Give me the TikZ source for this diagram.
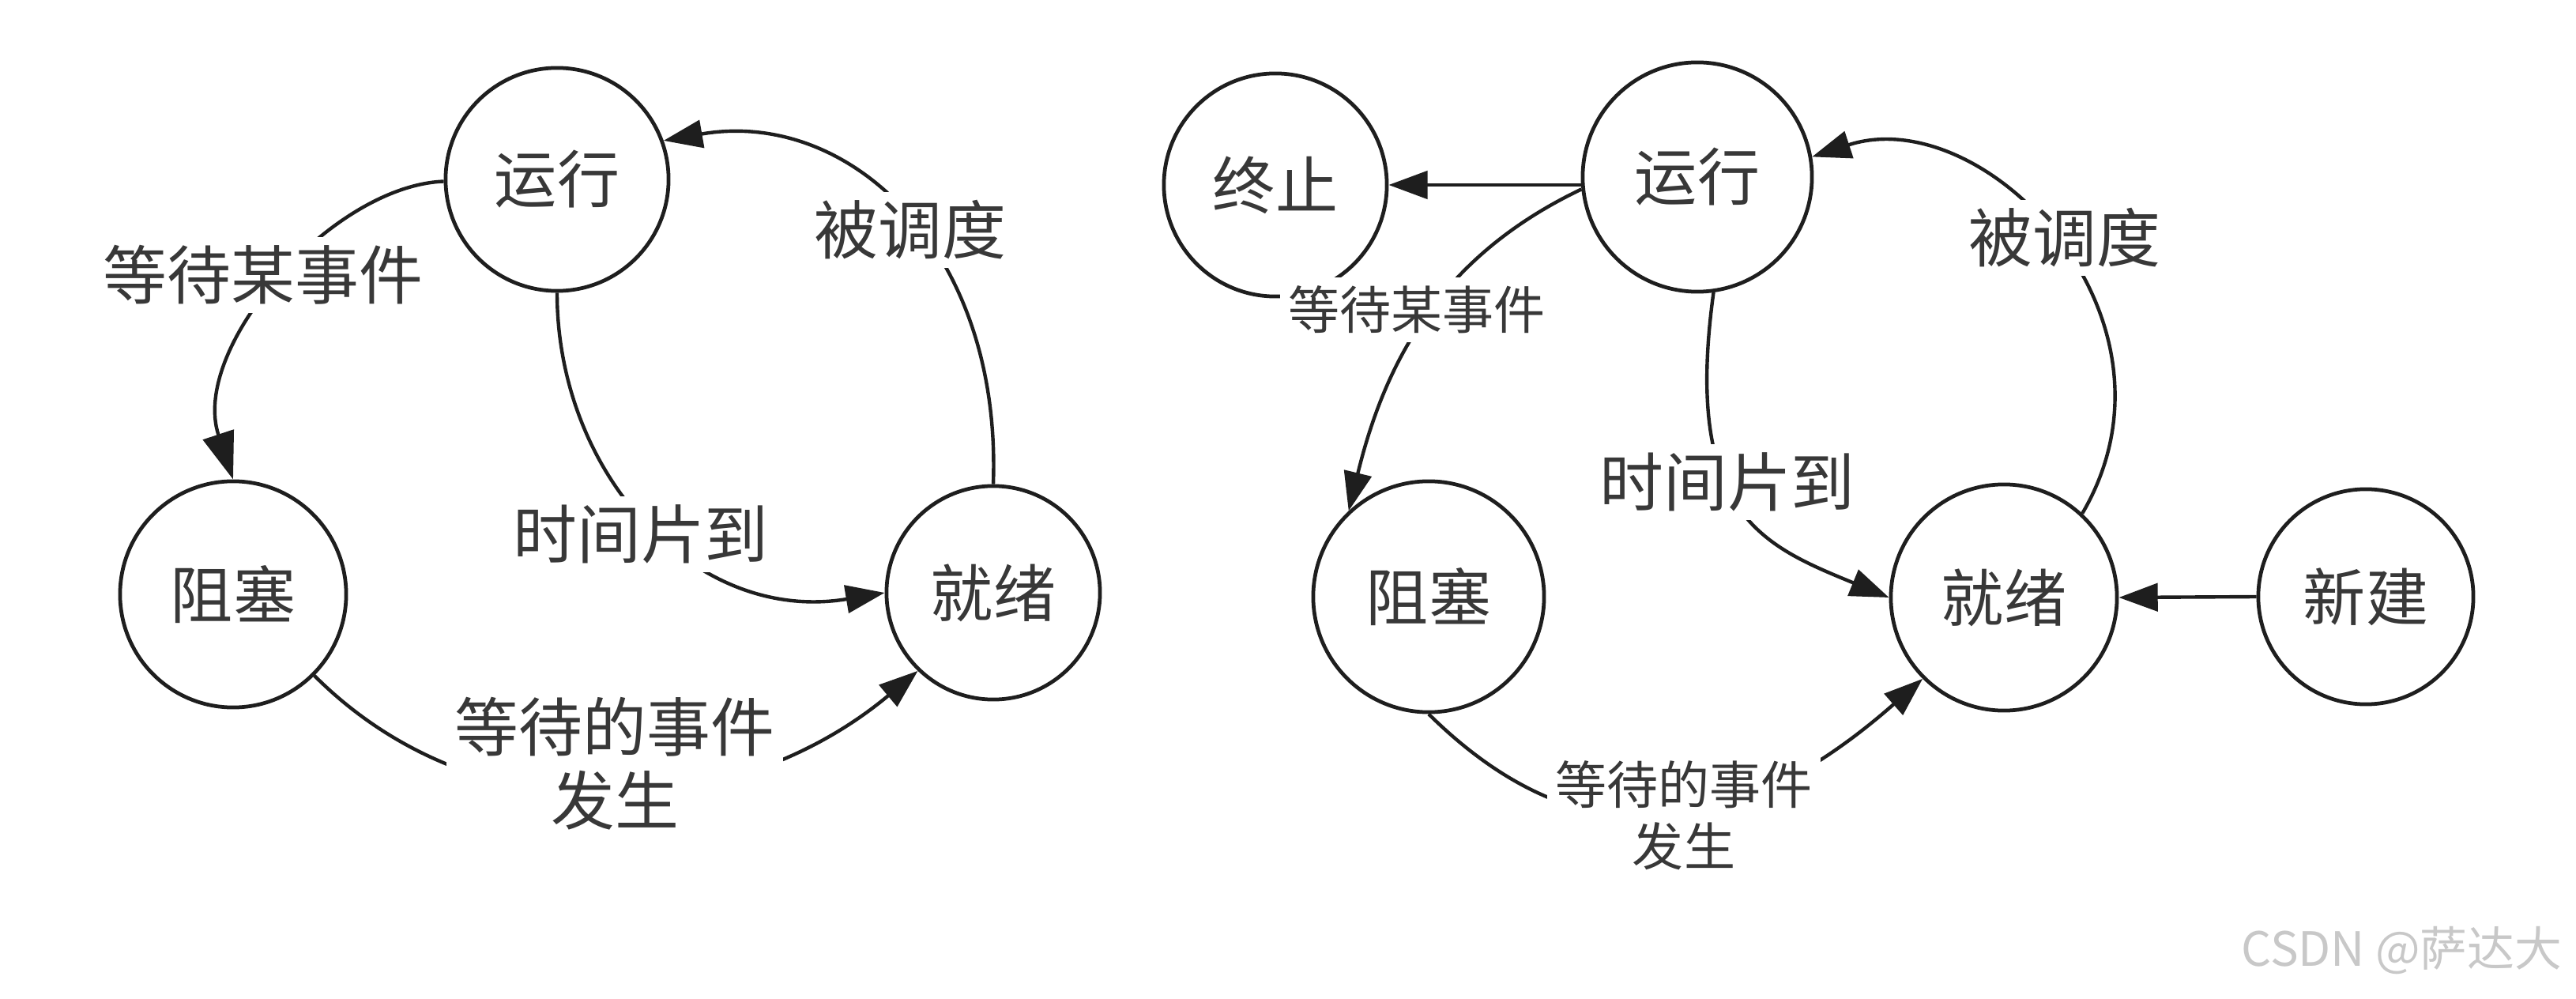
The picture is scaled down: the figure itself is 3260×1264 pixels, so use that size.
\documentclass[tikz,border=0pt]{standalone}
\usepackage{fontspec}
\setmainfont{Noto Sans CJK SC}
\usetikzlibrary{arrows.meta}
\definecolor{ink}{HTML}{1E1E1E}
\definecolor{txt}{HTML}{383838}
\definecolor{wm}{HTML}{C8C8C8}
\begin{document}
\begin{tikzpicture}[x=0.01cm,y=-0.01cm,
  state/.style={circle,draw=ink,line width=1.35pt,inner sep=0pt,text=txt,font=\fontsize{22.5}{26}\selectfont},
  biglab/.style={fill=white,inner sep=3pt,text=txt,font=\fontsize{23}{26.5}\selectfont,align=center},
  smalllab/.style={fill=white,inner sep=3pt,text=txt,font=\fontsize{18.5}{22.2}\selectfont,align=center},
  edge/.style={draw=ink,line width=1.25pt,-{Triangle[length=14pt,width=10pt]}},
  bigtip/.style={-{Triangle[length=17pt,width=11.5pt]}}]
\useasboundingbox[fill=white] (0,0) rectangle (3260,1264);
% left diagram
\node[state,minimum size=2.82cm] (L1) at (705,227) {运行};
\node[state,minimum size=2.86cm] (L2) at (295,752) {阻塞};
\node[state,minimum size=2.70cm] (L3) at (1257,750) {就绪};
% right diagram
\node[state,minimum size=2.82cm] (R1) at (1614,234) {终止};
\node[state,minimum size=2.90cm] (R2) at (2148,224) {运行};
\node[state,minimum size=2.92cm] (R3) at (1808,755) {阻塞};
\node[state,minimum size=2.86cm] (R4) at (2536,756) {就绪};
\node[state,minimum size=2.72cm] (R5) at (2994,755) {新建};
% left edges
\draw[edge,bigtip] (L1.181) .. controls (420,235) and (240,440) .. (L2.north);
\draw[edge] (L3.north) .. controls (1268,315) and (1074,137) .. (L1.20);
\draw[edge] (L1.south) .. controls (705,600) and (880,790) .. (L3.west);
\draw[edge] (L2.315) .. controls (608,1065) and (933,1040) .. (L3.226);
% right edges
\draw[edge] (R2.west |- R1.east) -- (R1.east);
\draw[edge] (R2.186) .. controls (1826,323) and (1754,453) .. (R3.133);
\draw[edge] (R4.47) .. controls (2780,403) and (2512,127) .. (R2.10);
\draw[edge] (R2.278) .. controls (2130,650) and (2230,690) .. (R4.west);
\draw[edge] (R3.south) .. controls (1999,1092) and (2195,1068) .. (R4.225);
\draw[edge] (R5.west) -- (R4.east);
% labels
\node[biglab] (la) at (333,348) {等待某事件};
\node[biglab] (lb) at (1152,291) {被调度};
\node[biglab] (lc) at (811,676) {时间片到};
\node[biglab] (ld) at (778,966) {等待的事件\\发生};
\node[smalllab] (ra) at (1793,392) {等待某事件};
\node[biglab] (rb) at (2613,301) {被调度};
\node[biglab] (rc) at (2186,610) {时间片到};
\node[smalllab] (rd) at (2131,1032) {等待的事件\\发生};
\node[anchor=east,text=wm,font=\fontsize{17}{20}\selectfont,inner sep=0pt] (wmk) at (3243,1203) {CSDN @萨达大};
\end{tikzpicture}
\end{document}
